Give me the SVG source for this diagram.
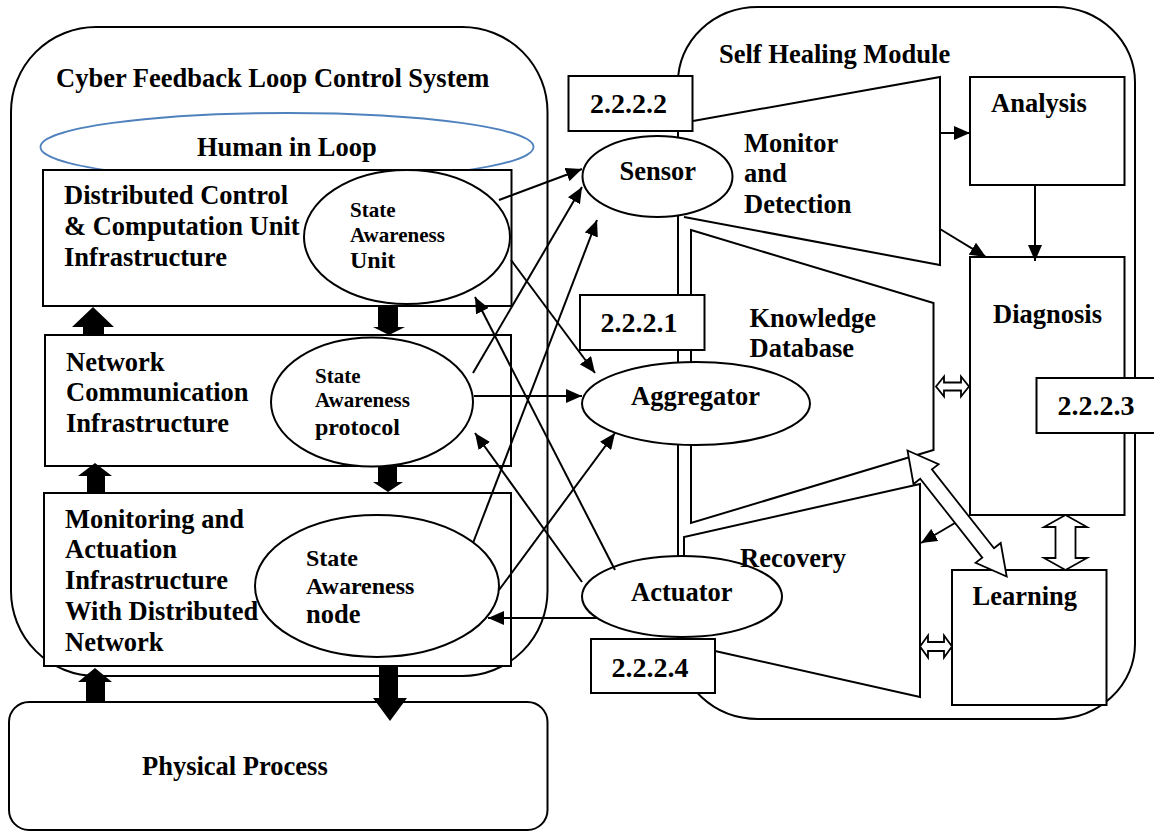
<svg xmlns="http://www.w3.org/2000/svg" width="1154" height="832" viewBox="0 0 1154 832">
  <style>
    .ln { fill: none; stroke: #000; stroke-width: 2; }
    .box { fill: #fff; stroke: #000; stroke-width: 2; }
    .t { font-family: "Liberation Serif", "Times New Roman", serif; font-weight: bold; font-size: 26.5px; fill: #000; }
    .sm { font-size: 21px; }
    .md { font-size: 24px; }
    .num { font-size: 28px; }
    .conn { fill: none; stroke: #000; stroke-width: 2; marker-end: url(#ah); }
    .solid { fill: #000; stroke: none; }
    .hollow { fill: #fff; stroke: #000; stroke-width: 1.8; stroke-linejoin: miter; }
  </style>
  <defs>
    <marker id="ah" viewBox="0 0 16 14" refX="16" refY="7" markerWidth="16" markerHeight="14" markerUnits="userSpaceOnUse" orient="auto">
      <path d="M0,0 L16,7 L0,14 z" fill="#000"/>
    </marker>
  </defs>

  <rect x="0" y="0" width="1154" height="832" fill="#fff"/>

  <!-- containers -->
  <g id="cyber-system">
    <rect class="ln" x="11" y="27" width="536.5" height="649" rx="85" ry="85"/>
    <text class="t" x="56" y="87">Cyber Feedback Loop Control System</text>
  </g>
  <g id="physical-process">
    <rect class="box" x="9" y="702" width="538.5" height="128" rx="20" ry="20"/>
    <text class="t" x="142" y="775">Physical Process</text>
  </g>
  <g id="self-healing-module">
    <rect class="ln" x="678" y="7" width="457" height="712" rx="80" ry="75"/>
    <text class="t" x="719" y="63">Self Healing Module</text>
  </g>

  <!-- cyber layers -->
  <g id="human-in-loop">
    <ellipse cx="287" cy="147" rx="246.5" ry="34" fill="none" stroke="#4f81bd" stroke-width="1.8"/>
    <text class="t" x="197" y="156">Human in Loop</text>
  </g>
  <g id="control-unit">
    <rect class="box" x="43" y="170" width="468.5" height="136"/>
    <text class="t" x="64" y="204">Distributed Control</text>
    <text class="t" x="64" y="235">&amp; Computation Unit</text>
    <text class="t" x="64" y="266">Infrastructure</text>
  </g>
  <g id="sa-unit">
    <ellipse class="box" cx="407" cy="237" rx="103" ry="67"/>
    <text class="t sm" x="350" y="217">State</text>
    <text class="t sm" x="350" y="242">Awareness</text>
    <text class="t md" x="350" y="268">Unit</text>
  </g>
  <g id="network-infra">
    <rect class="box" x="45" y="335" width="466" height="131"/>
    <text class="t" x="66" y="371">Network</text>
    <text class="t" x="66" y="401">Communication</text>
    <text class="t" x="66" y="432">Infrastructure</text>
  </g>
  <g id="sa-protocol">
    <ellipse class="box" cx="372" cy="402" rx="101" ry="64.5"/>
    <text class="t sm" x="315" y="383">State</text>
    <text class="t sm" x="315" y="407">Awareness</text>
    <text class="t md" x="315" y="435">protocol</text>
  </g>
  <g id="monitoring-infra">
    <rect class="box" x="44" y="493" width="467" height="173"/>
    <text class="t" x="65" y="528">Monitoring and</text>
    <text class="t" x="65" y="558">Actuation</text>
    <text class="t" x="65" y="589">Infrastructure</text>
    <text class="t" x="65" y="620">With Distributed</text>
    <text class="t" x="65" y="651">Network</text>
  </g>
  <g id="sa-node">
    <ellipse class="box" cx="377" cy="586" rx="122" ry="71"/>
    <text class="t md" x="306" y="566">State</text>
    <text class="t md" x="306" y="594">Awareness</text>
    <text class="t" x="306" y="623">node</text>
  </g>

  <!-- self healing stages -->
  <g id="monitor-detection">
    <path class="ln" d="M693,121 L940,77 L940,265 L684,217"/>
    <text class="t" x="744" y="152">Monitor</text>
    <text class="t" x="744" y="182">and</text>
    <text class="t" x="744" y="213">Detection</text>
  </g>
  <g id="knowledge-database">
    <polygon class="box" points="691,230 933.5,303 933.5,450 691,523"/>
    <text class="t" x="749.5" y="327">Knowledge</text>
    <text class="t" x="749.5" y="357">Database</text>
  </g>
  <g id="box-2222">
    <rect class="box" x="568.5" y="76" width="124" height="55"/>
    <text class="t num" x="590" y="113">2.2.2.2</text>
  </g>
  <g id="sensor">
    <ellipse class="box" cx="657.5" cy="176.5" rx="75" ry="40.5"/>
    <text class="t" x="619.5" y="180">Sensor</text>
  </g>
  <g id="box-2221">
    <rect class="box" x="580" y="295" width="124.5" height="55"/>
    <text class="t num" x="600.5" y="332">2.2.2.1</text>
  </g>
  <g id="aggregator">
    <ellipse class="box" cx="696" cy="403.5" rx="114" ry="41.5"/>
    <text class="t" x="631" y="405">Aggregator</text>
  </g>
  <g id="actuator">
    <ellipse class="box" cx="682" cy="596.5" rx="100" ry="40.5"/>
    <text class="t" x="631" y="601">Actuator</text>
  </g>
  <g id="box-2224">
    <rect class="box" x="591" y="639" width="124" height="54"/>
    <text class="t num" x="611.5" y="677">2.2.2.4</text>
  </g>
  <g id="recovery">
    <path class="ln" d="M684,556.5 L684,537 L920,484 L920,697 L715,651"/>
    <text class="t" x="740" y="567">Recovery</text>
  </g>
  <g id="analysis">
    <rect class="box" x="970" y="77" width="154.5" height="108"/>
    <text class="t" x="991" y="112">Analysis</text>
  </g>
  <g id="diagnosis">
    <rect class="box" x="970" y="257" width="154.5" height="258"/>
    <text class="t" x="993" y="323">Diagnosis</text>
  </g>
  <g id="box-2223">
    <rect class="box" x="1036.5" y="378" width="130" height="55"/>
    <text class="t num" x="1057.5" y="415">2.2.2.3</text>
  </g>
  <g id="learning">
    <rect class="box" x="952" y="570" width="154.5" height="135"/>
    <text class="t" x="972.5" y="605">Learning</text>
  </g>

  <!-- connectors -->
  <g id="connectors">
    <!-- layer-to-layer block arrows -->
    <polygon class="solid" points="93,307 114,327 104,327 104,335 83,335 83,327 72,327"/>
    <polygon class="solid" points="95,463 112,476 105,476 105,493 87,493 87,476 78,476"/>
    <polygon class="solid" points="95,668 112,682 105,682 105,702 86,702 86,682 78,682"/>
    <polygon class="solid" points="378,307 398,307 398,327 405,327 389,335 373,327 378,327"/>
    <polygon class="solid" points="378,466 397,466 397,482 403,482 388,492 373,482 378,482"/>
    <polygon class="solid" points="379,666 398,666 398,698 407,698 390,721 373,698 379,698"/>

    <!-- state awareness links -->
    <line class="conn" x1="499" y1="200" x2="582" y2="169"/>
    <line class="conn" x1="473" y1="373" x2="582" y2="187"/>
    <line class="conn" x1="473" y1="543" x2="597" y2="220"/>
    <line class="conn" x1="511" y1="260" x2="595" y2="373"/>
    <line class="conn" x1="474" y1="396" x2="582" y2="396"/>
    <line class="conn" x1="499" y1="590" x2="615" y2="433"/>
    <line class="conn" x1="615" y1="570" x2="475" y2="297"/>
    <line class="conn" x1="582" y1="582" x2="475" y2="433"/>
    <line class="conn" x1="597" y1="618" x2="488" y2="618"/>

    <!-- self healing flow -->
    <line class="conn" x1="940" y1="133" x2="970" y2="133"/>
    <line class="conn" x1="1035" y1="185" x2="1035" y2="261"/>
    <line class="conn" x1="940" y1="229" x2="986" y2="257"/>

    <!-- hollow two-way arrows -->
    <polygon class="hollow" points="936,386.5 944,376.5 944,382.5 961,382.5 961,376.5 969,386.5 961,396.5 961,390.5 944,390.5 944,396.5"/>
    <polygon class="hollow" points="920,646.5 928,635.5 928,642 944,642 944,635.5 952,646.5 944,657.5 944,651 928,651 928,657.5"/>
    <polygon class="hollow" points="1065.5,515 1087,527 1075.5,527 1075.5,558 1087,558 1065.5,570 1044,558 1055.5,558 1055.5,527 1044,527"/>
    <polygon class="hollow" points="907.5,450.5 938.6,464.2 931.9,469.4 994,548.3 1000.7,543 1006.7,576.5 975.6,562.8 982.3,557.6 920.2,478.7 913.5,484"/>

    <line class="conn" x1="955" y1="523" x2="921" y2="543"/>
  </g>
</svg>
